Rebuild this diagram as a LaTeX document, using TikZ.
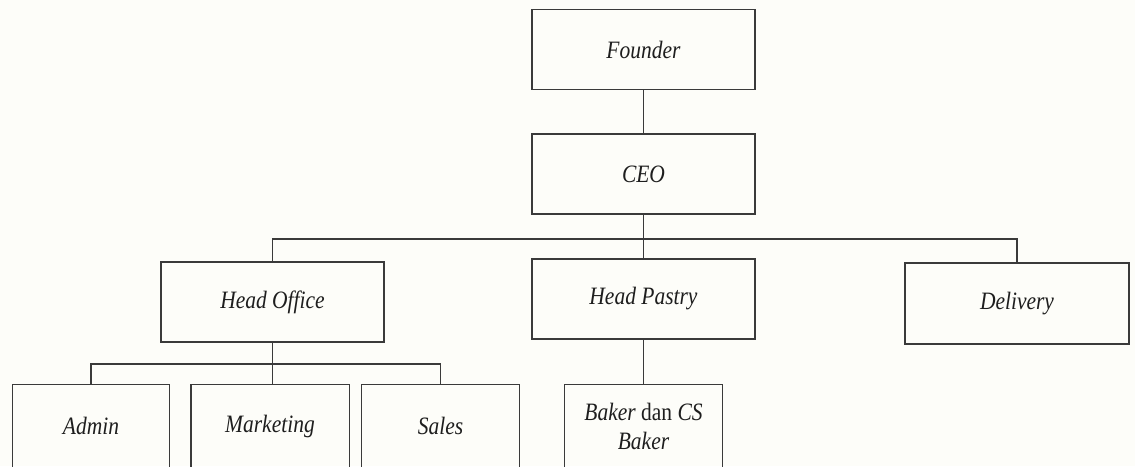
\documentclass[tikz,border=0pt]{standalone}
\usepackage{fontspec}
\setmainfont[FakeStretch=0.86]{Liberation Serif}
\definecolor{bg}{HTML}{FDFDF9}
\definecolor{ln}{HTML}{3A3A3A}
\definecolor{tx}{HTML}{1E1E1E}
\begin{document}
\begin{tikzpicture}[x=1pt,y=-1pt,
  box/.style={draw=ln,line width=1.4pt,rectangle,inner sep=0pt,align=center,text=tx,
    font=\fontsize{25}{29}\selectfont\itshape},
  big/.style={box,minimum width=223pt,minimum height=80pt},
  small/.style={box,draw=none,minimum width=157pt,minimum height=82pt},
  conn/.style={draw=ln,line width=1.4pt}]
\useasboundingbox[fill=bg] (0,0) rectangle (1135,466);
\node[big] (founder) at (643.5,49.5) {Founder};
\node[big] (ceo) at (643.5,174) {CEO};
\node[big] (hoff) at (272.5,302) {Head Office};
\node[big] (hpas) at (643.5,299) {Head Pastry};
\node[big,minimum width=224pt,minimum height=81pt] (deliv) at (1017,303.5) {Delivery};
\node[small,minimum width=156pt] (admin) at (91,426) {Admin};
\node[small] (mkt) at (270,426) {Marketing};
\node[small] (sales) at (440.5,426) {Sales};
\node[small] (baker) at (643.5,426) {Baker {\upshape dan} CS\\Baker};
\foreach \n in {admin,mkt,sales,baker}
  \draw[conn] (\n.north west) rectangle ([yshift=-20pt]\n.south east);
\coordinate (bus) at (643.5,239);
\coordinate (sbus) at (272.5,364);
\draw[conn] (founder.south) -- (ceo.north);
\draw[conn] (ceo.south) -- (bus);
\draw[conn] (hoff.north) |- (bus) -| (deliv.north);
\draw[conn] (hpas.north) -- (hpas.north |- bus);
\draw[conn] (hoff.south) -- (hoff.south |- mkt.north);
\draw[conn] (admin.north) |- (sbus) -| (sales.north);
\draw[conn] (hpas.south) -- (baker.north);
\end{tikzpicture}
\end{document}
